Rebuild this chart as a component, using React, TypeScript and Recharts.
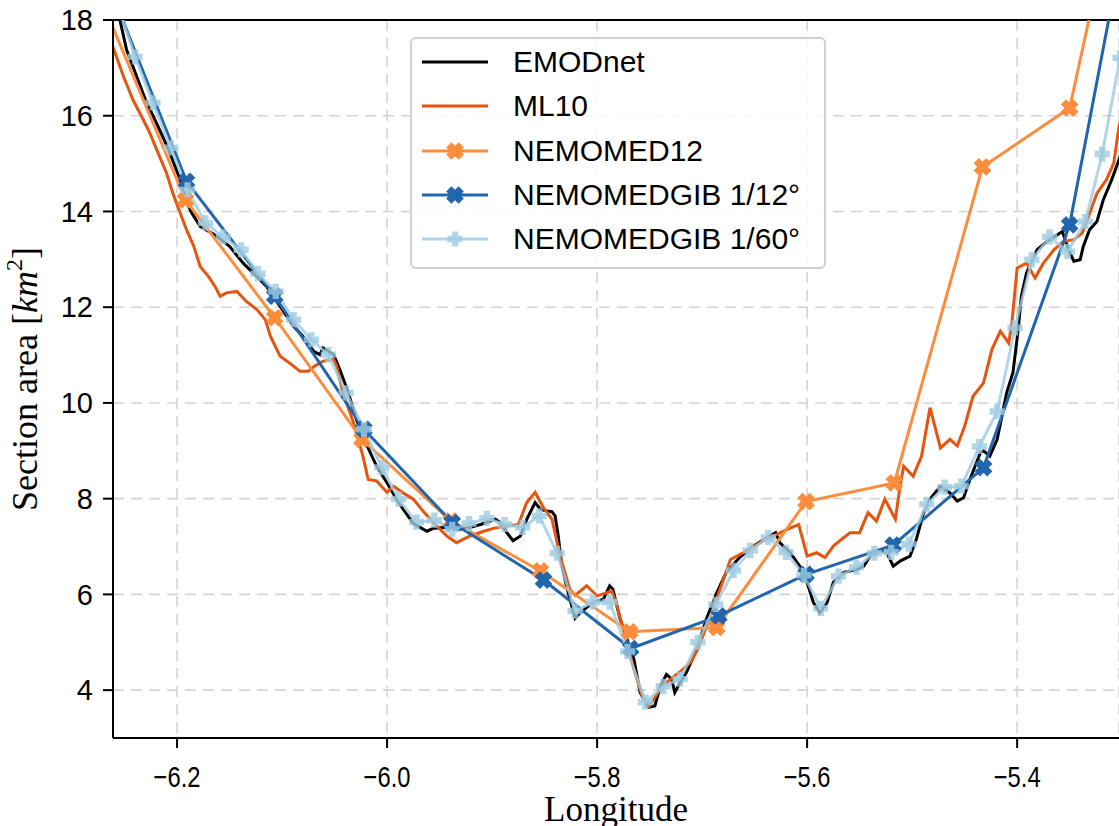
import React from 'react';
import { LineChart, Line, XAxis, YAxis, CartesianGrid, ReferenceLine } from 'recharts';

// ---------- data (longitude, section area km²) ----------
const emodnet: [number, number][] = [
  [-6.264, 18.83], [-6.254, 17.96], [-6.248, 17.37], [-6.242, 17.03], [-6.230, 16.33], [-6.218, 15.77],
  [-6.208, 15.29], [-6.197, 14.66], [-6.192, 14.24], [-6.186, 13.97], [-6.178, 13.69], [-6.164, 13.51],
  [-6.150, 13.27], [-6.137, 12.92], [-6.124, 12.64], [-6.115, 12.44], [-6.102, 12.02], [-6.089, 11.60],
  [-6.080, 11.39], [-6.070, 11.08], [-6.064, 11.01], [-6.061, 11.15], [-6.051, 11.01], [-6.045, 10.70],
  [-6.038, 10.28], [-6.029, 9.65], [-6.019, 9.10], [-6.010, 8.68], [-6.000, 8.33], [-5.991, 7.99],
  [-5.984, 7.76], [-5.975, 7.48], [-5.962, 7.32], [-5.956, 7.38], [-5.943, 7.40], [-5.934, 7.35],
  [-5.924, 7.38], [-5.911, 7.46], [-5.897, 7.57], [-5.892, 7.50], [-5.886, 7.29], [-5.880, 7.12],
  [-5.873, 7.22], [-5.867, 7.57], [-5.859, 7.92], [-5.854, 7.78], [-5.848, 7.74], [-5.843, 7.73],
  [-5.840, 7.64], [-5.837, 7.22], [-5.834, 6.67], [-5.829, 6.15], [-5.821, 5.50], [-5.816, 5.62],
  [-5.804, 5.83], [-5.794, 5.90], [-5.788, 6.18], [-5.785, 6.11], [-5.778, 5.48], [-5.765, 4.65],
  [-5.759, 3.95], [-5.751, 3.64], [-5.745, 3.67], [-5.740, 4.06], [-5.734, 4.33], [-5.729, 4.23],
  [-5.726, 3.95], [-5.721, 4.16], [-5.715, 4.37], [-5.705, 4.86], [-5.696, 5.48], [-5.686, 6.04],
  [-5.677, 6.46], [-5.664, 6.78], [-5.651, 7.01], [-5.638, 7.19], [-5.630, 7.29], [-5.626, 7.08],
  [-5.616, 6.87], [-5.607, 6.59], [-5.600, 6.25], [-5.594, 5.83], [-5.588, 5.62], [-5.581, 5.83],
  [-5.575, 6.25], [-5.565, 6.46], [-5.553, 6.52], [-5.546, 6.59], [-5.540, 6.80], [-5.530, 6.91],
  [-5.524, 6.87], [-5.518, 6.59], [-5.511, 6.70], [-5.502, 6.80], [-5.496, 7.15], [-5.489, 7.71],
  [-5.483, 7.99], [-5.473, 8.26], [-5.464, 8.12], [-5.457, 7.95], [-5.451, 8.02], [-5.445, 8.40],
  [-5.435, 8.96], [-5.432, 9.00], [-5.426, 8.89], [-5.419, 9.24], [-5.410, 10.21], [-5.404, 10.63],
  [-5.399, 11.53], [-5.396, 12.23], [-5.391, 12.72], [-5.381, 13.20], [-5.372, 13.37], [-5.362, 13.51],
  [-5.357, 13.58], [-5.351, 13.20], [-5.346, 12.96], [-5.340, 12.99], [-5.337, 13.27], [-5.331, 13.62],
  [-5.324, 13.79], [-5.318, 14.24], [-5.310, 14.66], [-5.303, 15.08], [-5.297, 15.50],
];

const ml10: [number, number][] = [
  [-6.264, 17.62], [-6.251, 16.82], [-6.242, 16.33], [-6.232, 15.91], [-6.226, 15.64], [-6.218, 15.22],
  [-6.210, 14.80], [-6.204, 14.38], [-6.197, 13.97], [-6.191, 13.62], [-6.184, 13.27], [-6.178, 12.85],
  [-6.170, 12.64], [-6.164, 12.44], [-6.159, 12.23], [-6.153, 12.30], [-6.143, 12.33], [-6.134, 12.12],
  [-6.124, 11.95], [-6.116, 11.74], [-6.111, 11.39], [-6.102, 10.98], [-6.089, 10.77], [-6.083, 10.66],
  [-6.075, 10.66], [-6.069, 10.77], [-6.061, 10.87], [-6.051, 10.91], [-6.048, 10.77], [-6.042, 10.21],
  [-6.032, 9.59], [-6.023, 8.89], [-6.018, 8.40], [-6.010, 8.37], [-6.000, 8.13], [-5.994, 8.26],
  [-5.984, 8.11], [-5.975, 7.99], [-5.965, 7.72], [-5.954, 7.46], [-5.943, 7.22], [-5.934, 7.08],
  [-5.921, 7.22], [-5.908, 7.32], [-5.897, 7.39], [-5.886, 7.43], [-5.875, 7.46], [-5.867, 7.92],
  [-5.859, 8.13], [-5.851, 7.81], [-5.843, 7.57], [-5.835, 6.78], [-5.826, 6.11], [-5.821, 5.98],
  [-5.810, 6.18], [-5.800, 5.97], [-5.786, 6.07], [-5.781, 5.76], [-5.775, 5.27], [-5.765, 4.44],
  [-5.757, 3.88], [-5.750, 3.67], [-5.742, 3.95], [-5.734, 4.16], [-5.718, 4.44], [-5.711, 4.58],
  [-5.704, 4.86], [-5.692, 5.55], [-5.683, 6.11], [-5.673, 6.73], [-5.661, 6.87], [-5.645, 7.08],
  [-5.632, 7.22], [-5.619, 7.36], [-5.608, 7.46], [-5.600, 6.80], [-5.591, 6.87], [-5.583, 6.77],
  [-5.575, 7.01], [-5.565, 7.19], [-5.559, 7.29], [-5.550, 7.29], [-5.542, 7.71], [-5.534, 7.53],
  [-5.526, 7.99], [-5.516, 7.57], [-5.511, 8.33], [-5.508, 8.68], [-5.499, 8.47], [-5.491, 8.89],
  [-5.483, 9.90], [-5.473, 9.06], [-5.464, 9.24], [-5.457, 9.10], [-5.450, 9.51], [-5.442, 10.14],
  [-5.432, 10.42], [-5.424, 11.12], [-5.416, 11.50], [-5.408, 11.25], [-5.405, 11.67], [-5.400, 12.82],
  [-5.391, 12.92], [-5.383, 12.61], [-5.375, 12.92], [-5.365, 13.20], [-5.356, 13.37], [-5.346, 13.41],
  [-5.338, 13.55], [-5.332, 13.90], [-5.324, 14.38], [-5.315, 14.66], [-5.308, 15.01], [-5.303, 15.77],
  [-5.297, 16.33],
];

const nemomed12: [number, number][] = [
  [-6.276, 18.62], [-6.192, 14.24], [-6.107, 11.78], [-6.024, 9.24], [-5.939, 7.53], [-5.854, 6.49],
  [-5.769, 5.22], [-5.686, 5.31], [-5.601, 7.94], [-5.517, 8.33], [-5.433, 14.93], [-5.350, 16.16],
  [-5.266, 24.6],
];

const gib12: [number, number][] = [
  [-6.275, 19.29], [-6.191, 14.63], [-6.107, 12.23], [-6.022, 9.45], [-5.938, 7.50], [-5.851, 6.30],
  [-5.768, 4.87], [-5.684, 5.55], [-5.601, 6.42], [-5.518, 7.03], [-5.432, 8.65], [-5.350, 13.72],
  [-5.266, 23.4],
];

const gib60: [number, number][] = [
  [-6.257, 18.35], [-6.240, 17.23], [-6.223, 16.27], [-6.206, 15.33], [-6.190, 14.45], [-6.173, 13.76],
  [-6.156, 13.47], [-6.139, 13.20], [-6.123, 12.70], [-6.106, 12.33], [-6.089, 11.74], [-6.072, 11.32],
  [-6.056, 11.01], [-6.039, 10.21], [-6.022, 9.45], [-6.005, 8.65], [-5.989, 7.99], [-5.972, 7.51],
  [-5.955, 7.55], [-5.938, 7.36], [-5.922, 7.48], [-5.905, 7.59], [-5.888, 7.46], [-5.871, 7.40],
  [-5.855, 7.64], [-5.838, 6.86], [-5.821, 5.65], [-5.804, 5.84], [-5.788, 5.84], [-5.771, 4.81],
  [-5.754, 3.75], [-5.737, 4.08], [-5.721, 4.23], [-5.704, 5.00], [-5.687, 5.79], [-5.670, 6.50],
  [-5.654, 6.92], [-5.637, 7.19], [-5.620, 6.88], [-5.603, 6.40], [-5.587, 5.71], [-5.570, 6.38],
  [-5.553, 6.57], [-5.536, 6.86], [-5.520, 6.88], [-5.503, 7.05], [-5.486, 7.88], [-5.469, 8.24],
  [-5.453, 8.26], [-5.436, 9.09], [-5.419, 9.82], [-5.402, 11.57], [-5.386, 12.99], [-5.369, 13.47],
  [-5.352, 13.16], [-5.335, 13.79], [-5.319, 15.20], [-5.302, 17.21], [-5.285, 19.5],
];

const xTicks = [-6.2, -6.0, -5.8, -5.6, -5.4];
const yTicks = [4, 6, 8, 10, 12, 14, 16, 18];
const xDomain: [number, number] = [-6.261, -5.303];
const yDomain: [number, number] = [3, 18];

const seriesNames = ['EMODnet', 'ML10', 'NEMOMED12', 'NEMOMEDGIB 1/12°', 'NEMOMEDGIB 1/60°'];
const seriesColors = ['#000000', '#e6550d', '#fd8d3c', '#2166ac', '#9ecae1'];
const seriesMarkers = ['none', 'none', 'X', 'X', 'P'];

const toPts = (arr: [number, number][]) => arr.map(([x, y]) => ({ x, y }));

const SANS = '"Liberation Sans", Arial, Helvetica, sans-serif';
const SERIF = '"Liberation Serif", "Times New Roman", serif';

const plusPoints = (r: number, a: number) =>
  `${-a},${-r} ${a},${-r} ${a},${-a} ${r},${-a} ${r},${a} ${a},${a} ${a},${r} ${-a},${r} ${-a},${a} ${-r},${a} ${-r},${-a} ${-a},${-a}`;

function Marker({ kind, cx, cy, color, opacity = 1 }: any) {
  if (kind === 'X') {
    return (
      <polygon points={plusPoints(8.8, 3.7)} transform={`translate(${cx},${cy}) rotate(45)`} fill={color} fillOpacity={opacity} />
    );
  }
  if (kind === 'P') {
    return <polygon points={plusPoints(7.6, 3.2)} transform={`translate(${cx},${cy})`} fill={color} fillOpacity={opacity} />;
  }
  return null;
}

const makeDot = (kind: string, color: string, opacity = 1) => (p: any) => {
  const key = `dot-${kind}-${color}-${p.index}`;
  if (p.cx == null || p.cy == null || isNaN(p.cx) || isNaN(p.cy)) return <g key={key} />;
  return (
    <g key={key}>
      <Marker kind={kind} cx={p.cx} cy={p.cy} color={color} opacity={opacity} />
    </g>
  );
};

const XTick = (props: any) => {
  const { x, y, payload } = props;
  const label = Number(payload.value).toFixed(1).replace('-', '\u2212');
  return (
    <g transform={`translate(${x},${y})`}>
      <text x={0} y={0} dy="0.71em" textAnchor="middle" fontSize={29} fontFamily={SANS} fill="#000" transform="scale(0.82,1)">
        {label}
      </text>
    </g>
  );
};

function LegendBox() {
  return (
    <div
      style={{
        position: 'absolute',
        left: 410,
        top: 37,
        width: 416,
        height: 232,
        boxSizing: 'border-box',
        border: '2px solid #d0d0d0',
        borderRadius: 6,
        background: 'rgba(255,255,255,0.85)',
        fontFamily: SANS,
        fontSize: 30,
        color: '#000',
      }}
    >
      {seriesNames.map((name, i) => {
        const c = seriesColors[i];
        const op = i === 4 ? 0.8 : 1;
        return (
          <div
            key={name}
            style={{ position: 'absolute', left: 10, top: 23 + 44.25 * i - 15, height: 30, display: 'flex', alignItems: 'center', whiteSpace: 'nowrap' }}
          >
            <svg width={66} height={30} style={{ display: 'block' }}>
              <line x1={0} x2={66} y1={15} y2={15} stroke={c} strokeWidth={3} strokeOpacity={op} />
              <Marker kind={seriesMarkers[i]} cx={33} cy={15} color={c} opacity={op} />
            </svg>
            <span style={{ marginLeft: 25, lineHeight: '30px' }}>{name}</span>
          </div>
        );
      })}
    </div>
  );
}

export default function App() {
  const W = 1119;
  const H = 826;
  return (
    <div style={{ position: 'fixed', left: 0, top: 0, width: W, height: H, background: '#fff', overflow: 'hidden' }}>
      <LineChart width={W} height={H} margin={{ top: 20, right: 0, left: 0, bottom: 0 }}>
        <CartesianGrid stroke="#d4d4d4" strokeWidth={1.6} strokeDasharray="11 7" />
        <XAxis
          dataKey="x"
          type="number"
          domain={xDomain}
          allowDataOverflow
          ticks={xTicks}
          height={88}
          tickSize={10}
          tickMargin={18}
          tick={<XTick />}
          tickLine={{ stroke: '#000', strokeWidth: 2 }}
          axisLine={{ stroke: '#000', strokeWidth: 2 }}
        />
        <YAxis
          type="number"
          domain={yDomain}
          allowDataOverflow
          ticks={yTicks}
          width={113}
          tickSize={10}
          tickMargin={10}
          tick={{ fontSize: 29, fontFamily: SANS, fill: '#000' }}
          tickLine={{ stroke: '#000', strokeWidth: 2 }}
          axisLine={{ stroke: '#000', strokeWidth: 2 }}
        />
        <ReferenceLine y={18} stroke="#000" strokeWidth={2} ifOverflow="visible" />
        <Line data={toPts(emodnet)} dataKey="y" name={seriesNames[0]} stroke={seriesColors[0]} strokeWidth={3} dot={false} isAnimationActive={false} />
        <Line data={toPts(ml10)} dataKey="y" name={seriesNames[1]} stroke={seriesColors[1]} strokeWidth={3} dot={false} isAnimationActive={false} />
        <Line data={toPts(nemomed12)} dataKey="y" name={seriesNames[2]} stroke={seriesColors[2]} strokeWidth={3} dot={makeDot('X', seriesColors[2])} isAnimationActive={false} />
        <Line data={toPts(gib12)} dataKey="y" name={seriesNames[3]} stroke={seriesColors[3]} strokeWidth={3} dot={makeDot('X', seriesColors[3])} isAnimationActive={false} />
        <Line data={toPts(gib60)} dataKey="y" name={seriesNames[4]} stroke={seriesColors[4]} strokeOpacity={0.8} strokeWidth={3} dot={makeDot('P', seriesColors[4], 0.8)} isAnimationActive={false} />
      </LineChart>
      <LegendBox />
      <div
        style={{
          position: 'absolute',
          left: 27,
          top: 379,
          transform: 'translate(-50%, -50%) rotate(-90deg)',
          fontFamily: SERIF,
          fontSize: 36,
          whiteSpace: 'nowrap',
          color: '#000',
          lineHeight: '40px',
        }}
      >
        Section area [<i>km</i>
        <sup style={{ fontSize: 24, verticalAlign: 'baseline', position: 'relative', top: -15 }}>2</sup>]
      </div>
      <div
        style={{
          position: 'absolute',
          left: 616,
          top: 810,
          transform: 'translate(-50%, -50%)',
          fontFamily: SERIF,
          fontSize: 35,
          whiteSpace: 'nowrap',
          color: '#000',
          lineHeight: '36px',
        }}
      >
        Longitude
      </div>
    </div>
  );
}
